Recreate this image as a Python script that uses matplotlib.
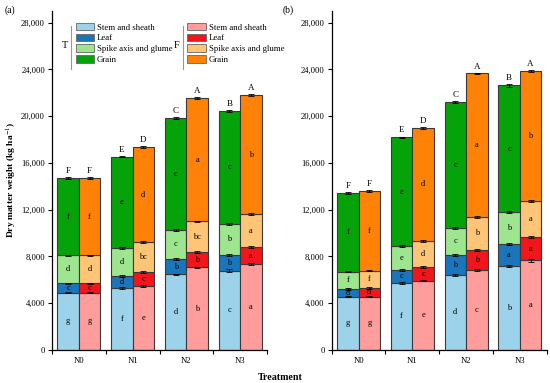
import numpy as np
import matplotlib
matplotlib.use('Agg')
import matplotlib.pyplot as plt
from matplotlib.patches import Patch

plt.rcParams['font.family'] = ['Liberation Serif', 'DejaVu Serif']
plt.rcParams['mathtext.fontset'] = 'stix'

# Datos
treatments = ['N0', 'N1', 'N2', 'N3']
organs = ['Stem and sheath', 'Leaf', 'Spike axis and glume', 'Grain']

# Panel (a) - altura de cada segmento (kg/ha)
a_T = [[4910, 5340, 6460, 6800],
       [800, 1000, 1310, 1310],
       [2380, 2350, 2520, 2690],
       [6610, 7860, 9540, 9630]]
a_F = [[4910, 5510, 7060, 7340],
       [800, 1150, 1310, 1460],
       [2380, 2570, 2630, 2800],
       [6610, 8120, 10570, 10200]]
a_T_let = [['g', 'f', 'd', 'c'], ['c', 'd', 'b', 'b'], ['d', 'd', 'c', 'b'], ['f', 'e', 'c', 'c']]
a_F_let = [['g', 'e', 'b', 'a'], ['c', 'c', 'b', 'a'], ['d', 'bc', 'bc', 'a'], ['f', 'd', 'a', 'b']]
a_T_top = ['F', 'E', 'C', 'B']
a_F_top = ['F', 'D', 'A', 'A']

# Panel (b)
b_T = [[4570, 5740, 6430, 7170],
       [660, 1120, 1680, 1920],
       [1480, 2050, 2350, 2740],
       [6730, 9270, 10740, 10800]]
b_F = [[4570, 5940, 6830, 7660],
       [740, 1170, 1710, 1970],
       [1490, 2230, 2860, 3080],
       [6810, 9640, 12260, 11150]]
b_T_let = [['g', 'f', 'd', 'b'], ['d', 'c', 'b', 'a'], ['f', 'e', 'c', 'b'], ['f', 'e', 'c', 'c']]
b_F_let = [['g', 'e', 'c', 'a'], ['d', 'c', 'b', 'a'], ['f', 'd', 'b', 'a'], ['f', 'd', 'a', 'b']]
b_T_top = ['F', 'E', 'C', 'B']
b_F_top = ['F', 'D', 'A', 'A']

# Error estándar (pequeño)
err = [60, 80, 70, 90]

colors_T = ['#9dd3ea', '#1b75bb', '#9de58f', '#05a20a']
colors_F = ['#ff9c9c', '#f2151c', '#ffc576', '#ff8208']
edge = '#3a3a3a'
width = 0.4


def draw_panel(ax, vals_T, vals_F, let_T, let_F, top_T, top_F):
    x = np.arange(1, len(treatments) + 1)
    for vals, lets, tops, cols, off in [(vals_T, let_T, top_T, colors_T, -width / 2),
                                        (vals_F, let_F, top_F, colors_F, width / 2)]:
        bottom = np.zeros(len(x))
        for k in range(len(organs)):
            h = np.array(vals[k], dtype=float)
            ax.bar(x + off, h, width, bottom=bottom, color=cols[k],
                   edgecolor=edge, linewidth=0.8, zorder=2)
            ax.errorbar(x + off, bottom + h, yerr=err, fmt='none', ecolor='black',
                        elinewidth=0.6, capsize=2, capthick=0.6, zorder=3)
            for i in range(len(x)):
                ax.text(x[i] + off, bottom[i] + h[i] / 2, lets[k][i], ha='center',
                        va='center', fontsize=6, zorder=4)
            bottom = bottom + h
        for i in range(len(x)):
            ax.annotate(tops[i], (x[i] + off, bottom[i] + err[i]), xytext=(0, 1.5),
                        textcoords='offset points', ha='center', va='bottom', fontsize=6.5)

    ax.set_xlim(0.5, 4.5)
    ax.set_ylim(0, 29000)
    ax.set_yticks(np.arange(0, 28001, 4000))
    ax.set_yticklabels([f'{v:,}' for v in range(0, 28001, 4000)])
    ax.set_xticks(x)
    ax.set_xticklabels(treatments)
    ax.set_xticks(np.arange(0.5, 4.6, 1), minor=True)
    ax.tick_params(axis='x', which='major', length=0, pad=5, labelsize=6.2)
    ax.tick_params(axis='x', which='minor', length=3, width=0.8, direction='out')
    ax.tick_params(axis='y', length=3, width=0.8, direction='out', labelsize=6.2, pad=2)
    ax.spines['top'].set_visible(False)
    ax.spines['right'].set_visible(False)
    ax.spines['left'].set_linewidth(0.9)
    ax.spines['bottom'].set_linewidth(0.9)


fig = plt.figure(figsize=(5.5, 3.83), dpi=100)
ax1 = fig.add_axes([0.0945, 0.0862, 0.391, 0.885])
ax2 = fig.add_axes([0.603, 0.0862, 0.391, 0.885])

draw_panel(ax1, a_T, a_F, a_T_let, a_F_let, a_T_top, a_F_top)
draw_panel(ax2, b_T, b_F, b_T_let, b_F_let, b_T_top, b_F_top)

# Leyenda (solo panel a)
kw = dict(frameon=False, fontsize=6.3, handlelength=2.1, handleheight=0.95,
          labelspacing=0.22, handletextpad=0.35, borderpad=0, borderaxespad=0)
hT = [Patch(facecolor=c, edgecolor='#666666', linewidth=0.6) for c in colors_T]
hF = [Patch(facecolor=c, edgecolor='#666666', linewidth=0.6) for c in colors_F]
legT = ax1.legend(hT, organs, loc='upper left', bbox_to_anchor=(0.11, 0.965), **kw)
ax1.add_artist(legT)
ax1.legend(hF, organs, loc='upper left', bbox_to_anchor=(0.63, 0.965), **kw)
ax1.text(0.06, 0.898, 'T', transform=ax1.transAxes, ha='center', va='center', fontsize=7.5)
ax1.text(0.58, 0.898, 'F', transform=ax1.transAxes, ha='center', va='center', fontsize=7.5)
ax1.plot([0.088, 0.088], [0.83, 0.955], transform=ax1.transAxes, color='#999999', lw=0.8)
ax1.plot([0.61, 0.61], [0.83, 0.955], transform=ax1.transAxes, color='#999999', lw=0.8)

fig.text(0.008, 0.985, '(a)', fontsize=7, va='top')
fig.text(0.513, 0.985, '(b)', fontsize=7, va='top')
fig.text(0.022, 0.53, r'Dry matter weight (kg ha$^{-1}$)', rotation=90, ha='center',
         va='center', fontsize=6.8, fontweight='bold')
fig.text(0.51, 0.015, 'Treatment', ha='center', va='center', fontsize=7.2, fontweight='bold')

fig.savefig('out.png', dpi=100)
